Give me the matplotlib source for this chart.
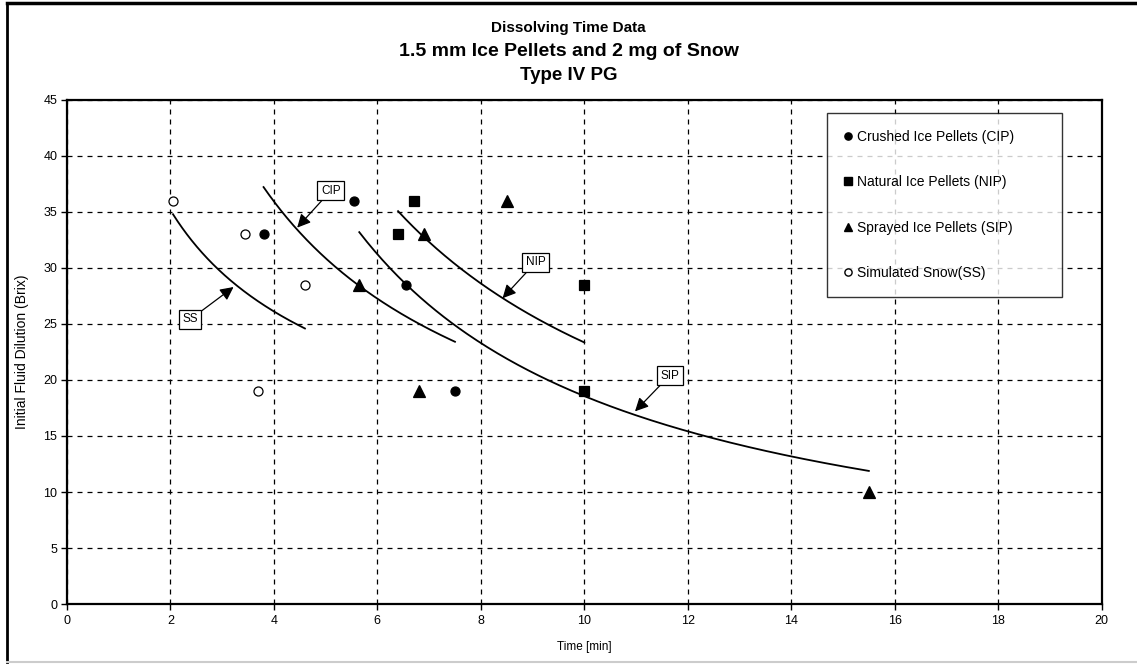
import numpy as np
import matplotlib.pyplot as plt
from matplotlib.lines import Line2D

plt.rcParams['font.family'] = ['Liberation Sans', 'DejaVu Sans']

# data: time [min], dilution [Brix]
cip_x = [3.8, 5.55, 6.55, 7.5]
cip_y = [33, 36, 28.5, 19]
nip_x = [6.7, 6.4, 10.0, 10.0]
nip_y = [36, 33, 28.5, 19]
sip_x = [8.5, 6.9, 5.65, 6.8, 15.5]
sip_y = [36, 33, 28.5, 19, 10]
ss_x = [2.05, 3.45, 4.6, 3.7]
ss_y = [36, 33, 28.5, 19]

series = [
    ("Crushed Ice Pellets (CIP)", cip_x, cip_y, "o", "black", 6.5),
    ("Natural Ice Pellets (NIP)", nip_x, nip_y, "s", "black", 7),
    ("Sprayed Ice Pellets (SIP)", sip_x, sip_y, "^", "black", 8),
    ("Simulated Snow(SS)", ss_x, ss_y, "o", "white", 6.5),
]

# callout labels: (text, label position, arrow tip)
callouts = [
    ("CIP", (5.1, 36.9), (4.45, 33.6)),
    ("SS", (2.38, 25.4), (3.22, 28.3)),
    ("NIP", (9.06, 30.5), (8.42, 27.3)),
    ("SIP", (11.65, 20.4), (10.98, 17.2)),
]

fig = plt.figure(figsize=(11.37, 6.65), dpi=100)
ax = fig.add_axes([0.0589, 0.0917, 0.910, 0.758])

handles = []
for label, xs, ys, mk, fc, ms in series:
    ax.plot(xs, ys, linestyle="none", marker=mk, markersize=ms,
            markerfacecolor=fc, markeredgecolor="black", markeredgewidth=0.9,
            zorder=4)
    # excel style power trendline over the data range
    b, lna = np.polyfit(np.log(xs), np.log(ys), 1)
    xf = np.linspace(min(xs), max(xs), 200)
    ax.plot(xf, np.exp(lna) * xf ** b, color="black", linewidth=1.3, zorder=3)
    handles.append(Line2D([], [], linestyle="none", marker=mk,
                          markersize=ms * 0.8, markerfacecolor=fc,
                          markeredgecolor="black", label=label))

for txt, lab, tip in callouts:
    ax.annotate(txt, xy=tip, xytext=lab, fontsize=8.5, ha="center", va="center",
                bbox=dict(boxstyle="square,pad=0.3", fc="white", ec="black", lw=0.9),
                arrowprops=dict(arrowstyle="-|>", color="black", lw=0.9,
                                mutation_scale=20, shrinkA=0, shrinkB=0),
                zorder=5)

ax.set_xlim(0, 20)
ax.set_ylim(0, 45)
ax.set_xticks(range(0, 21, 2))
ax.set_yticks(range(0, 46, 5))
ax.grid(True, color="black", linestyle=(0, (4, 4)), linewidth=0.9)
ax.tick_params(direction="out", length=4, width=1, labelsize=9, pad=3)
ax.tick_params(axis="x", pad=4)
for s in ax.spines.values():
    s.set_linewidth(1.6)
ax.set_xlabel("Time [min]", fontsize=8.5, labelpad=10)
ax.set_ylabel("Initial Fluid Dilution (Brix)", fontsize=10, labelpad=10)

leg = ax.legend(handles=handles, loc="upper left",
                bbox_to_anchor=(0.735, 0.617, 0.227, 0.357), mode="expand",
                fontsize=10, frameon=True, fancybox=False, handlelength=0.6,
                handletextpad=0.3, labelspacing=2.27, borderpad=1.2,
                borderaxespad=0)
leg.get_frame().set_edgecolor("black")
leg.get_frame().set_linewidth(1.0)

fig.text(0.5, 1 - 28 / 665, "Dissolving Time Data", ha="center", va="center",
         fontsize=11, fontweight="bold")
fig.text(0.5, 1 - 52 / 665, "1.5 mm Ice Pellets and 2 mg of Snow", ha="center",
         va="center", fontsize=14, fontweight="bold")
fig.text(0.5, 1 - 75 / 665, "Type IV PG", ha="center", va="center",
         fontsize=13.5, fontweight="bold")

# outer chart frame
fig.add_artist(Line2D([7 / 1137, 7 / 1137], [1 - 3 / 665, 1 - 662 / 665],
                      transform=fig.transFigure, color="black", lw=2))
fig.add_artist(Line2D([7 / 1137, 1], [1 - 3 / 665, 1 - 3 / 665],
                      transform=fig.transFigure, color="black", lw=2.5))
fig.add_artist(Line2D([7 / 1137, 1], [1 - 662 / 665, 1 - 662 / 665],
                      transform=fig.transFigure, color="#cccccc", lw=1.5))

fig.savefig("out.png", dpi=100)
